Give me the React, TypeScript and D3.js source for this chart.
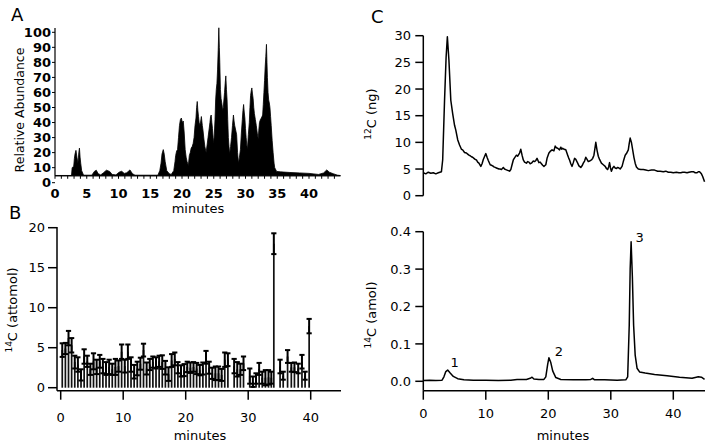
import React from 'react';
import * as d3 from 'd3';

const W = 712;
const H = 446;
const FONT = '"DejaVu Sans", "Liberation Sans", Arial, sans-serif';

// ---------- Panel A : relative abundance chromatogram ----------
const aXTicks = [0, 5, 10, 15, 20, 25, 30, 35, 40];
const aMinorTicks = d3.range(0, 45, 1);
const aYTicks = [0, 10, 20, 30, 40, 50, 60, 70, 80, 90, 100];
const aBase = 4.6;
const aPoints: [number, number][] = [
  [0, 4.8], [2.6, 4.8], [2.7, 10], [2.95, 11], [3.05, 16], [3.15, 19], [3.3, 21.5], [3.45, 17],
  [3.6, 13], [3.7, 17], [3.75, 20], [3.85, 23], [3.95, 17], [4.05, 13], [4.2, 8], [4.5, 5],
  [5.8, 5], [6.2, 7.5], [6.5, 8.3], [6.8, 6], [7.2, 5.2], [7.6, 6.5], [8.1, 8.3], [8.6, 7.5],
  [9.0, 5.5], [9.6, 5.2], [10.1, 7], [10.5, 7.6], [10.9, 6.2], [11.3, 6.6], [11.8, 8.5], [12.2, 6],
  [12.6, 5], [16.2, 5], [16.5, 8], [16.7, 13], [16.85, 19], [17.05, 22], [17.2, 19], [17.35, 14],
  [17.6, 8], [18.0, 6], [18.3, 5.5], [18.7, 8], [18.9, 14], [19.0, 18], [19.15, 21], [19.3, 22],
  [19.45, 30], [19.6, 38], [19.75, 42], [19.9, 43], [20.05, 40], [20.2, 41], [20.35, 33], [20.5, 22],
  [20.65, 17], [20.8, 14], [21.0, 11.5], [21.15, 18], [21.3, 20], [21.45, 23], [21.6, 24], [21.75, 26],
  [21.9, 30], [22.05, 38], [22.2, 43], [22.3, 50], [22.4, 54], [22.5, 48], [22.6, 44], [22.7, 40],
  [22.8, 38], [22.95, 41], [23.05, 44], [23.2, 38], [23.3, 35], [23.45, 29], [23.6, 24], [23.8, 20],
  [23.95, 25], [24.1, 30], [24.25, 35], [24.4, 40], [24.5, 44], [24.6, 45], [24.7, 40], [24.8, 36],
  [24.9, 30], [25.0, 26], [25.1, 33], [25.2, 42], [25.3, 55], [25.4, 62], [25.5, 66], [25.6, 75],
  [25.7, 88], [25.8, 103], [25.88, 90], [25.95, 80], [26.05, 62], [26.15, 56], [26.3, 52], [26.4, 48],
  [26.5, 50], [26.6, 55], [26.7, 60], [26.8, 66], [26.9, 71], [27.0, 62], [27.1, 55], [27.2, 42],
  [27.3, 30], [27.4, 24], [27.5, 19], [27.65, 24], [27.8, 30], [27.95, 38], [28.1, 45], [28.2, 41],
  [28.3, 38], [28.45, 35], [28.6, 32], [28.75, 20], [28.9, 13], [29.05, 17], [29.2, 22], [29.35, 33],
  [29.5, 42], [29.6, 48], [29.7, 52], [29.8, 47], [29.9, 43], [30.0, 36], [30.1, 30], [30.2, 25],
  [30.3, 22], [30.45, 32], [30.6, 40], [30.7, 50], [30.8, 58], [30.9, 61], [31.0, 63], [31.1, 59],
  [31.2, 56], [31.3, 50], [31.4, 46], [31.55, 42], [31.7, 38], [31.85, 33], [32.0, 29], [32.1, 35],
  [32.2, 40], [32.35, 42], [32.5, 43], [32.6, 44], [32.7, 45], [32.8, 52], [32.9, 60], [33.0, 68],
  [33.1, 77], [33.2, 84], [33.3, 92], [33.38, 80], [33.45, 70], [33.55, 60], [33.65, 55], [33.75, 53],
  [33.85, 50], [33.95, 44], [34.05, 38], [34.2, 28], [34.35, 20], [34.5, 13], [34.6, 10], [34.9, 7.5],
  [35.5, 7.2], [37, 6.8], [38.5, 6.5], [40, 6.2], [41.5, 5.5], [42.3, 6.5], [42.8, 8.5], [43.2, 7],
  [43.8, 6], [44.5, 5], [44.9, 4.8],
];

// ---------- Panel B : 14C fractions with error bars ----------
const bXTicks = [0, 10, 20, 30, 40];
const bYTicks = [0, 5, 10, 15, 20];
const bTimes = [
  0.25, 0.75, 1.25, 1.75, 2.25, 2.75, 3.25, 3.75, 4.25, 4.75, 5.25, 5.75, 6.25, 6.75, 7.25, 7.75,
  8.25, 8.75, 9.25, 9.75, 10.25, 10.75, 11.25, 11.75, 12.25, 12.75, 13.25, 13.75, 14.25, 14.75,
  15.25, 15.75, 16.25, 16.75, 17.25, 17.75, 18.25, 18.75, 19.25, 19.75, 20.25, 20.75, 21.25, 21.75,
  22.25, 22.75, 23.25, 23.75, 24.25, 24.75, 25.25, 25.75, 26.25, 26.75, 27.75, 28.25, 28.75, 29.25,
  30.25, 30.75, 31.25, 31.75, 32.25, 32.75, 33.25, 33.7, 34.1, 35.1, 35.6, 36.3, 36.9, 37.4, 38.0,
  38.6, 39.1, 39.75,
];
const bValues = [
  4.7, 4.9, 6.2, 5.3, 3.2, 2.9, 1.6, 3.9, 3.3, 2.3, 3.3, 2.6, 3.3, 2.7, 2.4, 2.6,
  2.3, 2.6, 2.7, 4.5, 2.7, 4.5, 2.9, 2.0, 2.4, 3.0, 4.7, 2.4, 2.9, 3.2,
  3.1, 3.3, 3.2, 2.5, 1.7, 3.4, 3.6, 2.5, 2.1, 2.2, 2.6, 2.5, 2.6, 2.4,
  2.2, 2.4, 3.8, 2.5, 1.8, 1.8, 1.8, 1.6, 3.5, 3.5, 2.7, 2.3, 2.3, 3.05,
  1.45, 0.75, 1.15, 2.35, 1.25, 1.25, 1.3, 1.25, 18.0, 2.65, 1.5, 3.9, 2.55, 2.55, 2.4,
  3.25, 1.5, 7.7,
];
const bErrors = [
  0.85, 0.7, 0.9, 0.9, 0.8, 0.9, 0.7, 0.9, 0.7, 0.7, 1.0, 0.9, 0.8, 0.9, 0.8, 0.9,
  0.7, 1.0, 0.7, 0.9, 0.8, 0.9, 0.9, 0.85, 0.85, 0.75, 0.8, 0.75, 0.7, 0.7,
  0.7, 0.7, 0.85, 0.85, 0.85, 0.8, 0.8, 0.7, 0.7, 0.75, 0.65, 0.65, 0.6, 0.7,
  0.65, 0.75, 0.8, 0.75, 0.7, 0.85, 0.85, 0.75, 0.9, 0.8, 0.9, 0.9, 0.7, 0.85,
  0.95, 0.65, 0.65, 0.75, 0.75, 0.95, 0.9, 0.75, 1.3, 0.85, 0.5, 0.8, 0.55, 0.6, 0.6,
  0.85, 0.5, 0.9,
];

// ---------- Panel C top : 12C (ng) ----------
const cTopYTicks = [0, 5, 10, 15, 20, 25, 30];
const cTopPoints: [number, number][] = [
  [0, 4.3], [0.4, 4.1], [0.8, 4.4], [1.2, 4.2], [1.6, 4.3], [2.0, 4.1], [2.4, 4.3], [2.9, 4.5],
  [3.1, 6.7], [3.4, 17.9], [3.65, 26], [3.85, 29.8], [4.1, 25.4], [4.4, 17.9], [4.7, 15.4], [5.0, 13.2],
  [5.2, 12.3], [5.5, 10.5], [5.8, 9.5], [6.1, 8.7], [6.3, 8.6], [6.6, 8.1], [6.9, 8.0], [7.1, 7.8],
  [7.3, 7.6], [7.5, 7.5], [7.7, 7.3], [7.9, 7.2], [8.1, 7.0], [8.3, 6.8], [8.5, 6.7], [8.7, 6.3],
  [8.9, 6.1], [9.2, 5.5], [9.4, 6.0], [9.6, 6.8], [10.0, 7.9], [10.2, 7.2], [10.4, 6.6], [10.7, 5.8],
  [10.9, 5.7], [11.1, 5.6], [11.3, 5.4], [11.5, 5.3], [11.7, 5.2], [11.9, 5.1], [12.1, 5.0], [12.3, 5.0],
  [12.5, 4.9], [12.8, 5.3], [13.0, 5.0], [13.2, 4.9], [13.4, 4.8], [13.6, 4.7], [13.8, 4.6], [14.0, 4.9],
  [14.2, 5.8], [14.4, 6.7], [14.6, 7.1], [14.9, 7.6], [15.1, 7.4], [15.4, 8.0], [15.6, 8.7], [15.8, 7.6],
  [16.0, 6.7], [16.2, 6.3], [16.5, 6.1], [16.7, 6.4], [16.9, 6.3], [17.1, 6.0], [17.3, 6.1], [17.6, 6.5],
  [17.8, 6.4], [18.0, 6.6], [18.2, 7.0], [18.35, 6.6], [18.5, 6.2], [18.7, 6.3], [18.9, 6.0], [19.1, 5.7],
  [19.3, 5.5], [19.6, 5.8], [19.8, 7.0], [20.1, 8.0], [20.3, 8.3], [20.6, 8.6], [20.9, 8.4], [21.1, 9.3],
  [21.3, 9.0], [21.5, 8.9], [21.8, 8.6], [22.0, 9.1], [22.15, 8.7], [22.3, 8.9], [22.5, 8.7], [22.8, 8.6],
  [22.95, 8.1], [23.1, 7.6], [23.25, 7.1], [23.4, 6.7], [23.6, 6.0], [23.8, 5.5], [24.0, 6.2], [24.2, 7.0],
  [24.4, 6.8], [24.7, 6.1], [24.9, 5.6], [25.2, 5.3], [25.4, 5.6], [25.6, 6.1], [25.8, 6.5], [26.0, 7.2],
  [26.2, 6.8], [26.4, 6.4], [26.6, 6.5], [26.9, 6.7], [27.1, 7.0], [27.3, 7.6], [27.45, 8.8], [27.6, 10.0],
  [27.8, 8.5], [28.0, 7.4], [28.2, 6.8], [28.5, 6.1], [28.8, 5.8], [29.1, 5.5], [29.3, 5.1], [29.5, 4.9],
  [29.65, 5.4], [29.8, 6.2], [29.95, 5.2], [30.1, 4.6], [30.3, 5.2], [30.5, 5.5], [30.7, 5.2], [30.9, 5.1],
  [31.1, 5.3], [31.3, 5.2], [31.5, 5.0], [31.8, 5.5], [32.0, 6.4], [32.3, 7.6], [32.5, 7.9], [32.8, 8.6],
  [32.95, 9.8], [33.1, 10.8], [33.3, 10.0], [33.5, 8.6], [33.7, 7.2], [33.9, 6.1], [34.1, 5.4], [34.4, 5.0],
  [34.8, 4.9], [35.2, 4.9], [35.6, 4.8], [36.0, 4.7], [36.5, 4.8], [37.0, 4.8], [37.5, 4.6], [37.9, 4.6],
  [38.4, 4.5], [38.8, 4.6], [39.2, 4.4], [39.6, 4.4], [40.0, 4.3], [40.5, 4.4], [40.9, 4.3], [41.2, 4.3],
  [41.5, 4.4], [41.8, 4.4], [42.2, 4.3], [42.5, 4.4], [42.9, 4.5], [43.2, 4.5], [43.5, 4.3], [43.8, 4.3],
  [44.0, 4.5], [44.2, 4.5], [44.5, 4.1], [44.7, 3.6], [45, 2.6],
];

// ---------- Panel C bottom : 14C (amol) ----------
const cBotXTicks = [0, 10, 20, 30, 40];
const cBotYTicks = [0, 0.1, 0.2, 0.3, 0.4];
const cBotPoints: [number, number][] = [
  [0, 0.002], [1, 0.003], [2, 0.002], [3.0, 0.003], [3.3, 0.012], [3.6, 0.026], [3.9, 0.030], [4.3, 0.022],
  [4.8, 0.013], [5.5, 0.007], [6.5, 0.004], [8, 0.003], [10, 0.003], [12, 0.002], [14, 0.003], [15, 0.005],
  [16.5, 0.005], [17.1, 0.008], [17.4, 0.011], [17.7, 0.006], [18.5, 0.005], [19.3, 0.005], [19.6, 0.012],
  [19.9, 0.045], [20.1, 0.063], [20.4, 0.05], [20.7, 0.028], [21.2, 0.01], [22, 0.005], [24, 0.004],
  [26, 0.004], [26.8, 0.005], [27.1, 0.008], [27.4, 0.004], [29, 0.004], [31, 0.003], [32.4, 0.004],
  [32.7, 0.012], [32.95, 0.15], [33.1, 0.30], [33.25, 0.373], [33.45, 0.28], [33.65, 0.15], [33.9, 0.07],
  [34.2, 0.035], [34.6, 0.025], [35.5, 0.022], [37, 0.018], [39, 0.015], [41, 0.011], [43, 0.008],
  [44, 0.012], [44.5, 0.011], [45, 0.005],
];
const cPeakLabels = ['1', '2', '3'];
const cPeakTimes = [5.0, 21.7, 34.6];
const cPeakValues = [0.052, 0.08, 0.385];

export default function App() {
  const xA = d3.scaleLinear().domain([0, 45]).range([55, 340.75]);
  const yA = d3.scaleLinear().domain([0, 100]).range([182.7, 32.3]);
  const xB = d3.scaleLinear().domain([0, 45]).range([60.7, 341.95]);
  const yB = d3.scaleLinear().domain([0, 20]).range([387.7, 227.7]);
  const xC = d3.scaleLinear().domain([0, 45]).range([423.3, 704.55]);
  const yCt = d3.scaleLinear().domain([0, 30]).range([195.7, 35.7]);
  const yCb = d3.scaleLinear().domain([0, 0.4]).range([381.3, 231.7]);

  const aAxisY = yA(aBase);
  const areaA = d3
    .area<[number, number]>()
    .x((d) => xA(d[0]))
    .y0(aAxisY)
    .y1((d) => yA(d[1]));
  const lineCt = d3
    .line<[number, number]>()
    .x((d) => xC(d[0]))
    .y((d) => yCt(d[1]));
  const lineCb = d3
    .line<[number, number]>()
    .x((d) => xC(d[0]))
    .y((d) => yCb(d[1]));

  const tickFont = 13;
  const bAxisY = 390.7;
  const bAxisX = 57;
  const cAxisX = 423.3;
  const cBotAxisY = 390.7;

  return (
    <svg
      width={W}
      height={H}
      viewBox={`0 0 ${W} ${H}`}
      style={{ position: 'absolute', left: 0, top: 0, background: '#fff' }}
      fontFamily={FONT}
    >
      <rect x={0} y={0} width={W} height={H} fill="#fff" />

      {/* ================= Panel A ================= */}
      <text x={11} y={21} fontSize={18}>A</text>
      <path d={areaA(aPoints) || ''} fill="#000" stroke="#000" strokeWidth={0.8} strokeLinejoin="miter" />
      <line x1={55} x2={55} y1={28} y2={aAxisY} stroke="#000" strokeWidth={1.2} />
      <line x1={55} x2={xA(45)} y1={aAxisY} y2={aAxisY} stroke="#000" strokeWidth={1} />
      {aYTicks.map((t) => (
        <g key={'ay' + t}>
          <line x1={52} x2={55} y1={yA(t)} y2={yA(t)} stroke="#000" strokeWidth={1} />
          <text x={51} y={yA(t)} dy="0.36em" textAnchor="end" fontSize={13} fontWeight="bold">
            {t}
          </text>
        </g>
      ))}
      {aMinorTicks.map((t) => (
        <line key={'am' + t} x1={xA(t)} x2={xA(t)} y1={aAxisY} y2={aAxisY + 3} stroke="#000" strokeWidth={1} />
      ))}
      {aXTicks.map((t) => (
        <text key={'ax' + t} x={xA(t)} y={197.5} textAnchor="middle" fontSize={13} fontWeight="bold">
          {t}
        </text>
      ))}
      <text x={198} y={213} textAnchor="middle" fontSize={13}>minutes</text>
      <text transform={`translate(24,110) rotate(-90)`} textAnchor="middle" fontSize={12.5}>
        Relative Abundance
      </text>

      {/* ================= Panel B ================= */}
      <text x={9} y={219} fontSize={18}>B</text>
      {bTimes.map((t, i) => (
        <rect
          key={'bb' + i}
          x={xB(t) - 0.85}
          width={1.7}
          y={yB(bValues[i])}
          height={yB(0) - yB(bValues[i])}
          fill="#111"
        />
      ))}
      {bTimes.map((t, i) => {
        const top = yB(bValues[i] + bErrors[i]);
        const bot = yB(bValues[i] - bErrors[i]);
        const cx = xB(t);
        return (
          <g key={'be' + i} stroke="#000" strokeWidth={2}>
            <line x1={cx} x2={cx} y1={top} y2={bot} />
            <line x1={cx - 2.6} x2={cx + 2.6} y1={top} y2={top} />
            <line x1={cx - 2.6} x2={cx + 2.6} y1={bot} y2={bot} />
          </g>
        );
      })}
      <line x1={bAxisX} x2={bAxisX} y1={227} y2={bAxisY} stroke="#000" strokeWidth={1.5} />
      <line x1={bAxisX} x2={341} y1={bAxisY} y2={bAxisY} stroke="#000" strokeWidth={1.5} />
      {bYTicks.map((t) => (
        <g key={'by' + t}>
          <line x1={bAxisX - 9} x2={bAxisX} y1={yB(t)} y2={yB(t)} stroke="#000" strokeWidth={1.5} />
          <text x={45} y={yB(t)} dy="0.36em" textAnchor="end" fontSize={tickFont}>
            {t}
          </text>
        </g>
      ))}
      {bXTicks.map((t) => (
        <g key={'bx' + t}>
          <line x1={xB(t)} x2={xB(t)} y1={bAxisY} y2={bAxisY + 9} stroke="#000" strokeWidth={1.5} />
          <text x={xB(t)} y={422} textAnchor="middle" fontSize={tickFont}>
            {t}
          </text>
        </g>
      ))}
      <text x={200} y={440} textAnchor="middle" fontSize={13}>minutes</text>
      <text transform={`translate(17,310) rotate(-90)`} textAnchor="middle" fontSize={13}>
        <tspan fontSize={9} dy="-5">14</tspan>
        <tspan dy="5">C (attomol)</tspan>
      </text>

      {/* ================= Panel C top ================= */}
      <text x={371} y={23} fontSize={18}>C</text>
      <path d={lineCt(cTopPoints) || ''} fill="none" stroke="#000" strokeWidth={1.5} strokeLinejoin="round" />
      <line x1={cAxisX} x2={cAxisX} y1={yCt(30)} y2={yCt(0)} stroke="#000" strokeWidth={1.5} />
      {cTopYTicks.map((t) => (
        <g key={'cty' + t}>
          <line x1={cAxisX - 8} x2={cAxisX} y1={yCt(t)} y2={yCt(t)} stroke="#000" strokeWidth={1.5} />
          <text x={411} y={yCt(t)} dy="0.36em" textAnchor="end" fontSize={tickFont}>
            {t}
          </text>
        </g>
      ))}
      <text transform={`translate(376,114) rotate(-90)`} textAnchor="middle" fontSize={13}>
        <tspan fontSize={9} dy="-5">12</tspan>
        <tspan dy="5">C (ng)</tspan>
      </text>

      {/* ================= Panel C bottom ================= */}
      <path d={lineCb(cBotPoints) || ''} fill="none" stroke="#000" strokeWidth={1.5} strokeLinejoin="round" />
      <line x1={cAxisX} x2={cAxisX} y1={yCb(0.4)} y2={cBotAxisY} stroke="#000" strokeWidth={1.5} />
      <line x1={cAxisX} x2={705} y1={cBotAxisY} y2={cBotAxisY} stroke="#000" strokeWidth={1.5} />
      {cBotYTicks.map((t) => (
        <g key={'cby' + t}>
          <line x1={cAxisX - 8} x2={cAxisX} y1={yCb(t)} y2={yCb(t)} stroke="#000" strokeWidth={1.5} />
          <text x={411} y={yCb(t)} dy="0.36em" textAnchor="end" fontSize={tickFont}>
            {t.toFixed(1)}
          </text>
        </g>
      ))}
      {cBotXTicks.map((t) => (
        <g key={'cbx' + t}>
          <line x1={xC(t)} x2={xC(t)} y1={cBotAxisY} y2={cBotAxisY + 9} stroke="#000" strokeWidth={1.5} />
          <text x={xC(t)} y={418} textAnchor="middle" fontSize={tickFont}>
            {t}
          </text>
        </g>
      ))}
      <text x={563} y={440} textAnchor="middle" fontSize={13}>minutes</text>
      <text transform={`translate(376,315) rotate(-90)`} textAnchor="middle" fontSize={13}>
        <tspan fontSize={9} dy="-5">14</tspan>
        <tspan dy="5">C (amol)</tspan>
      </text>
      {cPeakLabels.map((l, i) => (
        <text
          key={'pl' + l}
          x={xC(cPeakTimes[i])}
          y={yCb(cPeakValues[i])}
          dy="0.36em"
          textAnchor="middle"
          fontSize={13}
        >
          {l}
        </text>
      ))}
    </svg>
  );
}
